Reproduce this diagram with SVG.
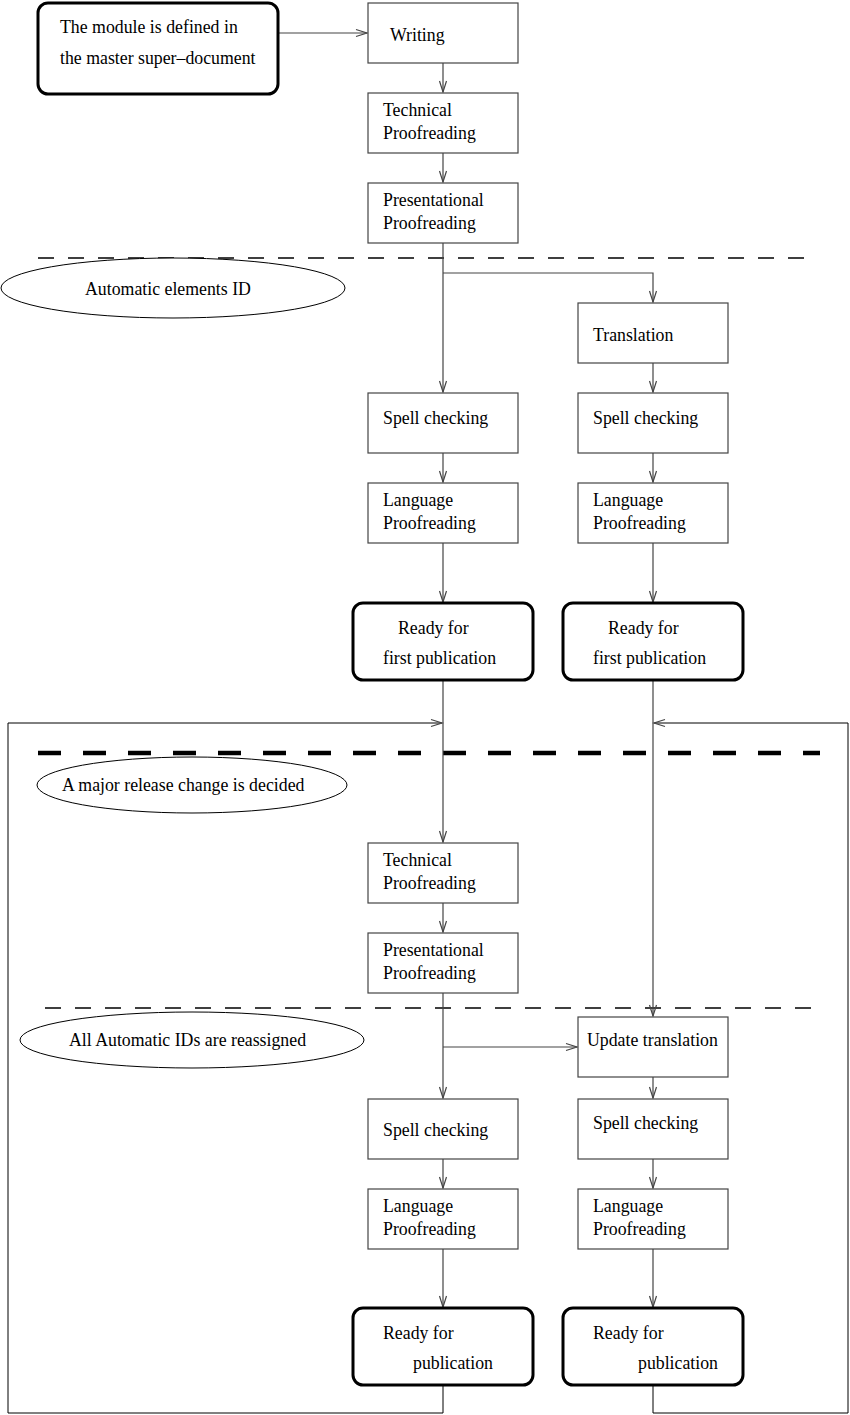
<svg xmlns="http://www.w3.org/2000/svg" width="850" height="1415" viewBox="0 0 850 1415">
<style>
.box{fill:#fff;stroke:#444;stroke-width:1.2}
.rbox{fill:#fff;stroke:#000;stroke-width:3}
.ell{fill:#fff;stroke:#000;stroke-width:1}
.t{font-family:"Liberation Serif",serif;font-size:17.8px;fill:#000}
.c{fill:none;stroke:#444;stroke-width:1.2}
.d1{fill:none;stroke:#000;stroke-width:1.3;stroke-dasharray:16 14}
.d2{fill:none;stroke:#000;stroke-width:4.5;stroke-dasharray:23 22}
</style>
<defs>
<marker id="a" markerUnits="userSpaceOnUse" markerWidth="14" markerHeight="10" viewBox="-12 -5 14 10" refX="0" refY="0" orient="auto">
<path d="M-11,-3.5 L0,0 L-11,3.5" fill="none" stroke="#444" stroke-width="1.2"/>
</marker>
</defs>
<g id="separators">
<line class="d1" x1="38" y1="258" x2="804" y2="258"/>
<line class="d2" x1="38" y1="753" x2="820" y2="753"/>
<line class="d1" x1="45" y1="1008" x2="811" y2="1008"/>
</g>
<g id="connectors">
<line class="c" x1="278" y1="33" x2="367" y2="33" marker-end="url(#a)"/>
<line class="c" x1="443" y1="63" x2="443" y2="92" marker-end="url(#a)"/>
<line class="c" x1="443" y1="153" x2="443" y2="182" marker-end="url(#a)"/>
<line class="c" x1="443" y1="243" x2="443" y2="392" marker-end="url(#a)"/>
<polyline class="c" points="443,273 653,273 653,302" marker-end="url(#a)"/>
<line class="c" x1="653" y1="363" x2="653" y2="392" marker-end="url(#a)"/>
<line class="c" x1="443" y1="453" x2="443" y2="482" marker-end="url(#a)"/>
<line class="c" x1="653" y1="453" x2="653" y2="482" marker-end="url(#a)"/>
<line class="c" x1="443" y1="543" x2="443" y2="602" marker-end="url(#a)"/>
<line class="c" x1="653" y1="543" x2="653" y2="602" marker-end="url(#a)"/>
<line class="c" x1="443" y1="680" x2="443" y2="842" marker-end="url(#a)"/>
<line class="c" x1="653" y1="680" x2="653" y2="1016" marker-end="url(#a)"/>
<line class="c" x1="443" y1="903" x2="443" y2="932" marker-end="url(#a)"/>
<line class="c" x1="443" y1="993" x2="443" y2="1098" marker-end="url(#a)"/>
<line class="c" x1="443" y1="1047" x2="577" y2="1047" marker-end="url(#a)"/>
<line class="c" x1="653" y1="1077" x2="653" y2="1098" marker-end="url(#a)"/>
<line class="c" x1="443" y1="1159" x2="443" y2="1188" marker-end="url(#a)"/>
<line class="c" x1="653" y1="1159" x2="653" y2="1188" marker-end="url(#a)"/>
<line class="c" x1="443" y1="1249" x2="443" y2="1307" marker-end="url(#a)"/>
<line class="c" x1="653" y1="1249" x2="653" y2="1307" marker-end="url(#a)"/>
<polyline class="c" points="443,1385 443,1413 8,1413 8,723 442,723" marker-end="url(#a)" style="stroke:#000;stroke-width:1"/>
<polyline class="c" points="653,1385 653,1413 848,1413 848,723 654,723" marker-end="url(#a)" style="stroke:#000;stroke-width:1"/>
</g>
<g id="start"><rect class="rbox" x="38" y="3" width="240" height="91" rx="10"/><text class="t" x="60" y="33">The module is defined in</text><text class="t" x="60" y="64">the master super–document</text></g>
<g id="writing"><rect class="box" x="368" y="3" width="150" height="60"/><text class="t" x="390" y="41">Writing</text></g>
<g id="tech1"><rect class="box" x="368" y="93" width="150" height="60"/><text class="t" x="383" y="116">Technical</text><text class="t" x="383" y="139">Proofreading</text></g>
<g id="pres1"><rect class="box" x="368" y="183" width="150" height="60"/><text class="t" x="383" y="206">Presentational</text><text class="t" x="383" y="229">Proofreading</text></g>
<g id="autoid"><ellipse class="ell" cx="173" cy="288" rx="172" ry="30"/><text class="t" x="85" y="295">Automatic elements ID</text></g>
<g id="translation"><rect class="box" x="578" y="303" width="150" height="60"/><text class="t" x="593" y="341">Translation</text></g>
<g id="spell1l"><rect class="box" x="368" y="393" width="150" height="60"/><text class="t" x="383" y="424">Spell checking</text></g>
<g id="spell1r"><rect class="box" x="578" y="393" width="150" height="60"/><text class="t" x="593" y="424">Spell checking</text></g>
<g id="lang1l"><rect class="box" x="368" y="483" width="150" height="60"/><text class="t" x="383" y="506">Language</text><text class="t" x="383" y="529">Proofreading</text></g>
<g id="lang1r"><rect class="box" x="578" y="483" width="150" height="60"/><text class="t" x="593" y="506">Language</text><text class="t" x="593" y="529">Proofreading</text></g>
<g id="ready1l"><rect class="rbox" x="353" y="603" width="180" height="77" rx="10"/><text class="t" x="398" y="634">Ready for</text><text class="t" x="383" y="664">first publication</text></g>
<g id="ready1r"><rect class="rbox" x="563" y="603" width="180" height="77" rx="10"/><text class="t" x="608" y="634">Ready for</text><text class="t" x="593" y="664">first publication</text></g>
<g id="major"><ellipse class="ell" cx="192" cy="785" rx="155" ry="28"/><text class="t" x="62" y="791">A major release change is decided</text></g>
<g id="tech2"><rect class="box" x="368" y="843" width="150" height="60"/><text class="t" x="383" y="866">Technical</text><text class="t" x="383" y="889">Proofreading</text></g>
<g id="pres2"><rect class="box" x="368" y="933" width="150" height="60"/><text class="t" x="383" y="956">Presentational</text><text class="t" x="383" y="979">Proofreading</text></g>
<g id="reassigned"><ellipse class="ell" cx="192" cy="1040" rx="172" ry="28"/><text class="t" x="69" y="1046">All Automatic IDs are reassigned</text></g>
<g id="update"><rect class="box" x="578" y="1017" width="150" height="60"/><text class="t" x="587" y="1046">Update translation</text></g>
<g id="spell2l"><rect class="box" x="368" y="1099" width="150" height="60"/><text class="t" x="383" y="1136">Spell checking</text></g>
<g id="spell2r"><rect class="box" x="578" y="1099" width="150" height="60"/><text class="t" x="593" y="1129">Spell checking</text></g>
<g id="lang2l"><rect class="box" x="368" y="1189" width="150" height="60"/><text class="t" x="383" y="1212">Language</text><text class="t" x="383" y="1235">Proofreading</text></g>
<g id="lang2r"><rect class="box" x="578" y="1189" width="150" height="60"/><text class="t" x="593" y="1212">Language</text><text class="t" x="593" y="1235">Proofreading</text></g>
<g id="ready2l"><rect class="rbox" x="353" y="1308" width="180" height="77" rx="10"/><text class="t" x="383" y="1339">Ready for</text><text class="t" x="413" y="1369">publication</text></g>
<g id="ready2r"><rect class="rbox" x="563" y="1308" width="180" height="77" rx="10"/><text class="t" x="593" y="1339">Ready for</text><text class="t" x="638" y="1369">publication</text></g>
</svg>
